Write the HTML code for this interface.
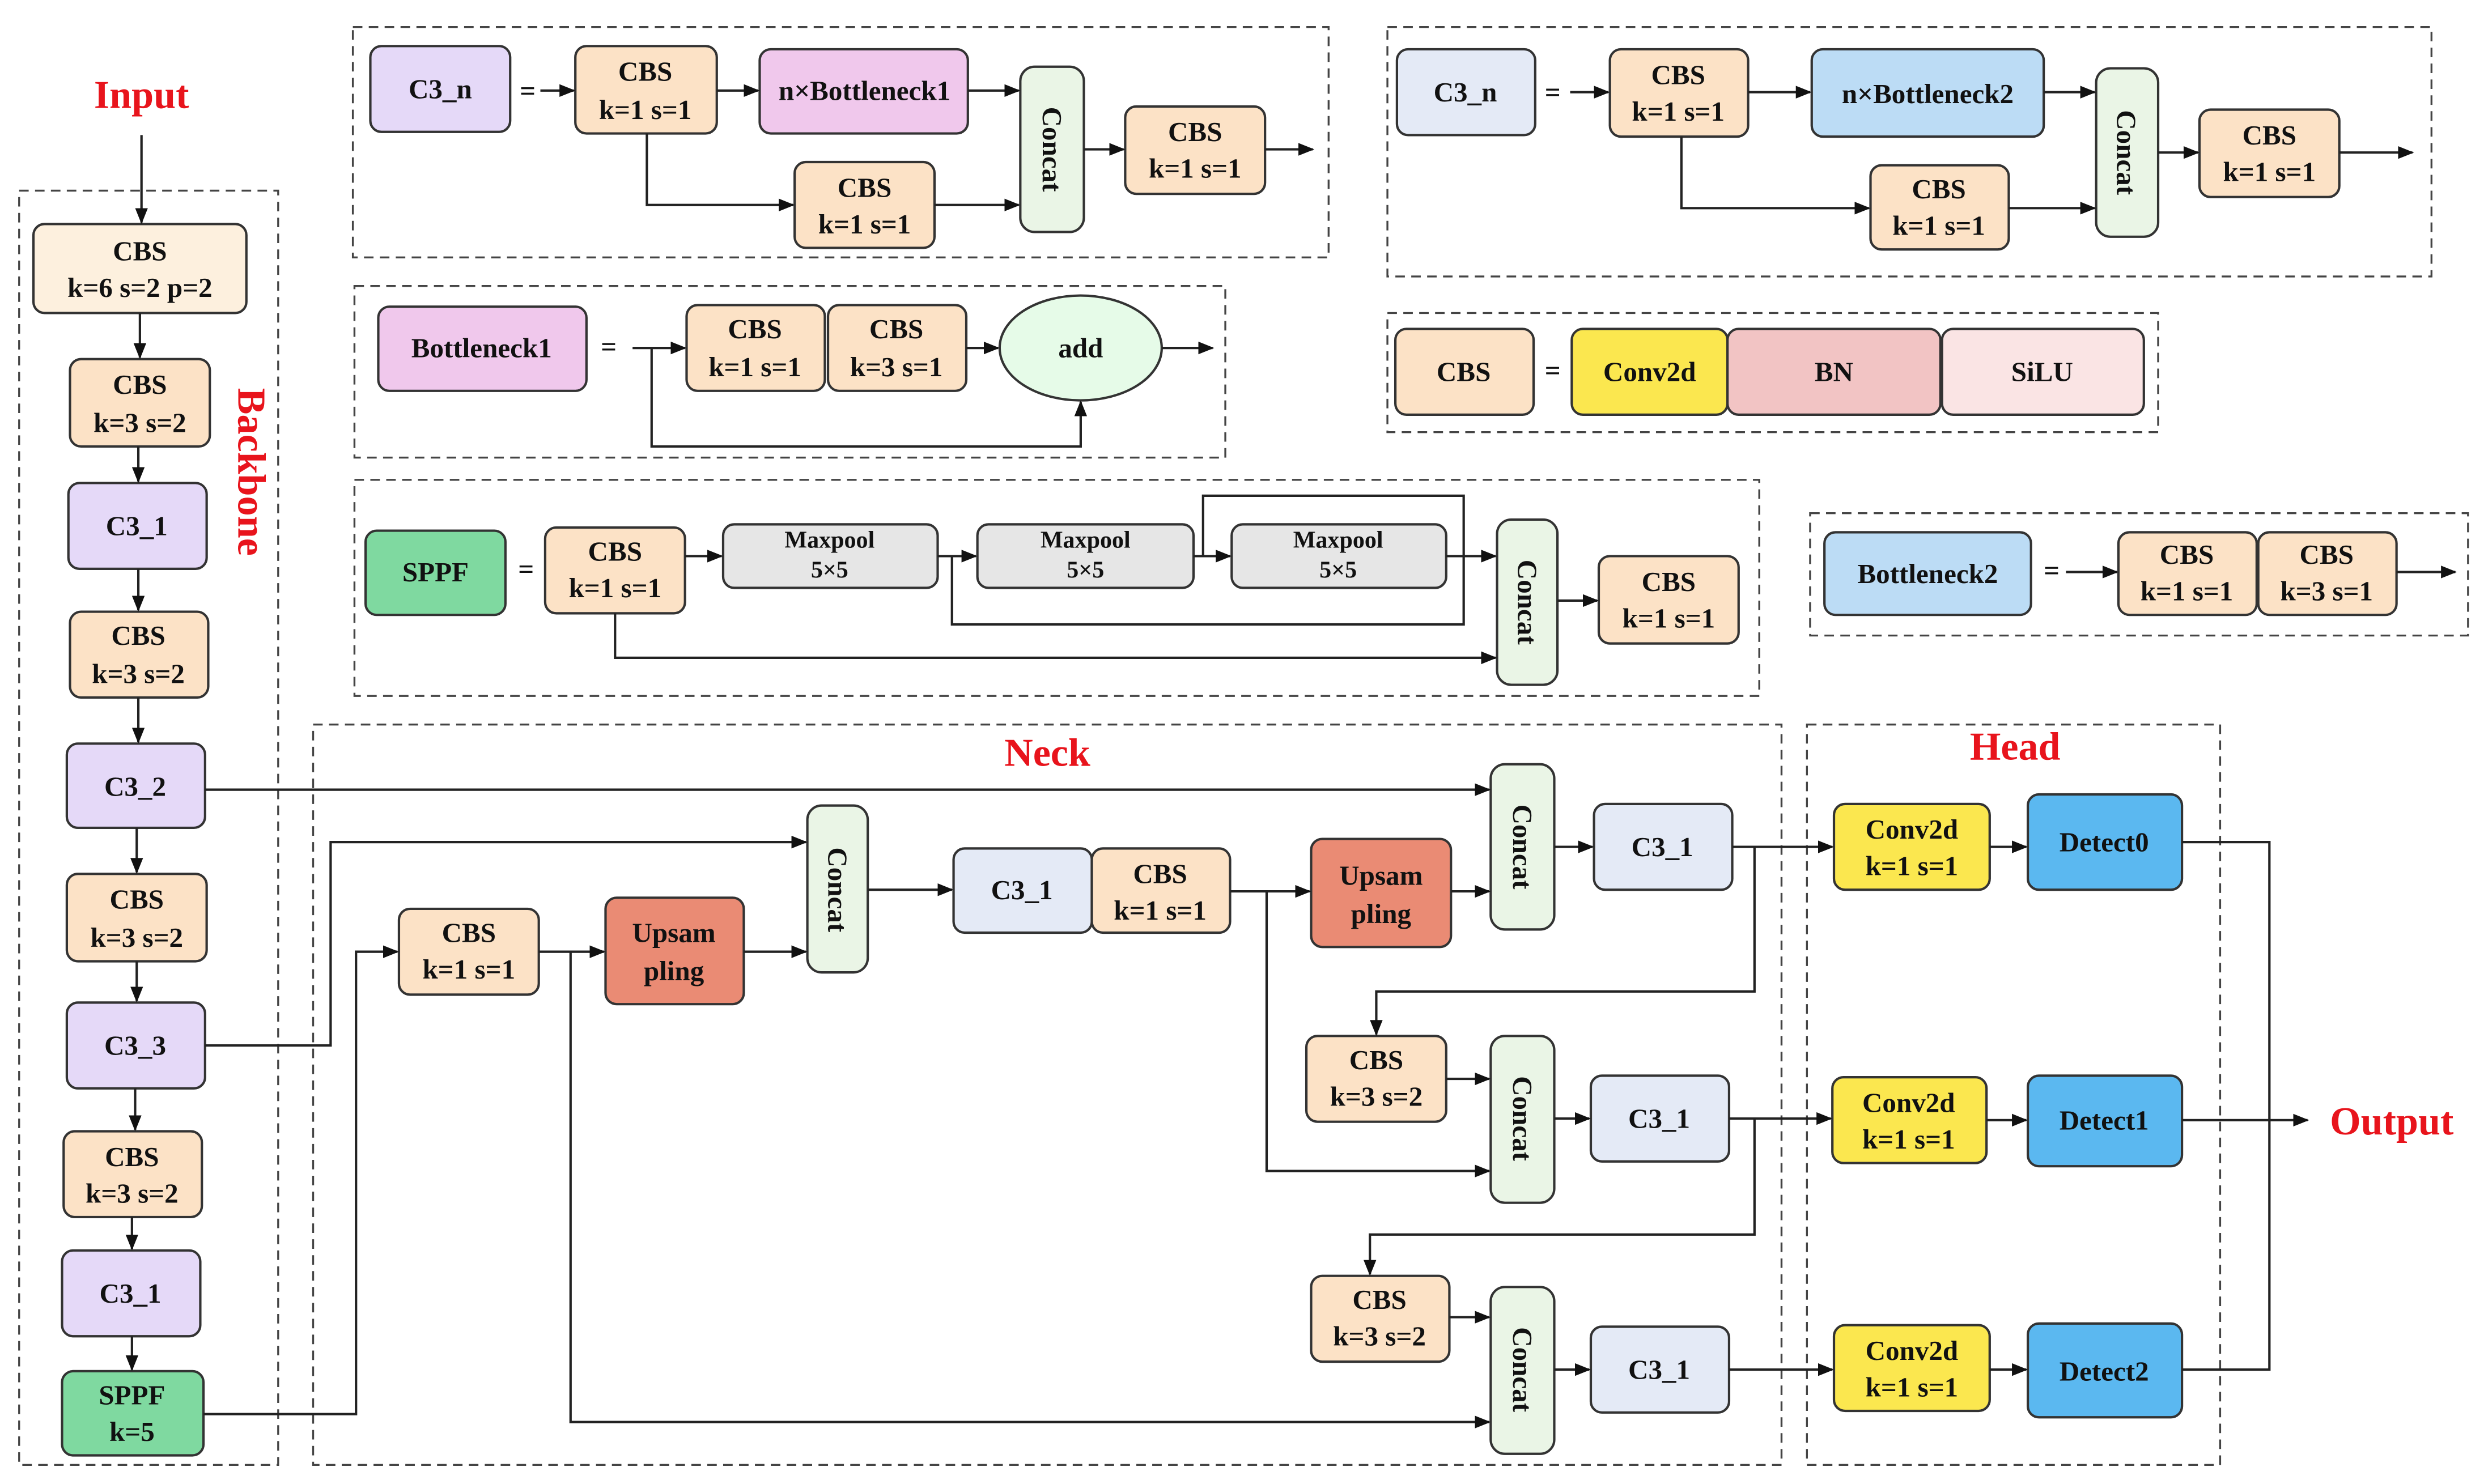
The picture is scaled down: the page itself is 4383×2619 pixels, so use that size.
<!DOCTYPE html>
<html><head><meta charset="utf-8"><style>
html,body{margin:0;padding:0;background:#fff;}
svg{display:block;font-family:"Liberation Serif","Times New Roman",serif;}
svg text{font-family:"Liberation Serif","Times New Roman",serif !important;font-weight:bold;fill:#111;text-anchor:middle;dominant-baseline:central;}
.b rect,.b ellipse{stroke:#333;stroke-width:1.5;}
.l{fill:none;stroke:#222;stroke-width:1.5;}
.d{fill:none;stroke:#444;stroke-width:1.2;stroke-dasharray:6 4;}
.r{fill:#e8141c;font-size:25px;}
.t{font-size:17.5px;}
.s{font-size:15px;}
</style></head><body>
<svg width="4383" height="2619" viewBox="0 0 1563 934" xmlns="http://www.w3.org/2000/svg" font-family="Liberation Serif, serif" font-weight="bold">
<defs><marker id="a" markerWidth="10" markerHeight="10" refX="9" refY="5" orient="auto" markerUnits="userSpaceOnUse"><path d="M0,1 L10,5 L0,9 z" fill="#111"/></marker></defs>

<rect class="d" x="12" y="120" width="163" height="802"/>
<rect class="d" x="222" y="17" width="614" height="145"/>
<rect class="d" x="873" y="17" width="657" height="157"/>
<rect class="d" x="223" y="180" width="548" height="108"/>
<rect class="d" x="873" y="197" width="485" height="75"/>
<rect class="d" x="223" y="302" width="884" height="136"/>
<rect class="d" x="1139" y="323" width="414" height="77"/>
<rect class="d" x="197" y="456" width="924" height="466"/>
<rect class="d" x="1137" y="456" width="260" height="466"/>

<text class="r" x="89" y="60">Input</text>
<text class="r" x="659" y="474">Neck</text>
<text class="r" x="1268" y="470">Head</text>
<text class="r" x="1505" y="706">Output</text>
<text class="r" transform="translate(158,297) rotate(90)">Backbone</text>

<g class="b">
<rect x="21" y="141" width="134" height="56" rx="7" fill="#fdf0de"/>
<rect x="44" y="226" width="88" height="55" rx="7" fill="#fce2c6"/>
<rect x="43" y="304" width="87" height="54" rx="7" fill="#e5d9f8"/>
<rect x="44" y="385" width="87" height="54" rx="7" fill="#fce2c6"/>
<rect x="42" y="468" width="87" height="53" rx="7" fill="#e5d9f8"/>
<rect x="42" y="550" width="88" height="55" rx="7" fill="#fce2c6"/>
<rect x="42" y="631" width="87" height="54" rx="7" fill="#e5d9f8"/>
<rect x="40" y="712" width="87" height="54" rx="7" fill="#fce2c6"/>
<rect x="39" y="787" width="87" height="54" rx="7" fill="#e5d9f8"/>
<rect x="39" y="863" width="89" height="53" rx="7" fill="#7fd9a0"/>
<rect x="233" y="29" width="88" height="54" rx="7" fill="#e5d9f8"/>
<rect x="362" y="29" width="89" height="55" rx="7" fill="#fce2c6"/>
<rect x="478" y="31" width="131" height="53" rx="7" fill="#f0c8ec"/>
<rect x="642" y="42" width="40" height="104" rx="9" fill="#eaf5e6"/>
<rect x="500" y="102" width="88" height="54" rx="7" fill="#fce2c6"/>
<rect x="708" y="67" width="88" height="55" rx="7" fill="#fce2c6"/>
<rect x="879" y="31" width="87" height="54" rx="7" fill="#e4eaf6"/>
<rect x="1013" y="31" width="87" height="55" rx="7" fill="#fce2c6"/>
<rect x="1140" y="31" width="146" height="55" rx="7" fill="#bcdcf5"/>
<rect x="1319" y="43" width="39" height="106" rx="9" fill="#eaf5e6"/>
<rect x="1177" y="104" width="87" height="53" rx="7" fill="#fce2c6"/>
<rect x="1384" y="69" width="88" height="55" rx="7" fill="#fce2c6"/>
<rect x="238" y="193" width="131" height="53" rx="7" fill="#f0c8ec"/>
<rect x="432" y="192" width="87" height="54" rx="7" fill="#fce2c6"/>
<rect x="521" y="192" width="87" height="54" rx="7" fill="#fce2c6"/>
<ellipse cx="680" cy="219" rx="51" ry="33" fill="#e6fbe8"/>
<rect x="878" y="207" width="87" height="54" rx="7" fill="#fce2c6"/>
<rect x="989" y="207" width="98" height="54" rx="7" fill="#fbe74f"/>
<rect x="1087" y="207" width="134" height="54" rx="7" fill="#f2c4c4"/>
<rect x="1222" y="207" width="127" height="54" rx="7" fill="#fae4e4"/>
<rect x="230" y="334" width="88" height="53" rx="7" fill="#7fd9a0"/>
<rect x="343" y="332" width="88" height="54" rx="7" fill="#fce2c6"/>
<rect x="455" y="330" width="135" height="40" rx="7" fill="#e6e6e6"/>
<rect x="615" y="330" width="136" height="40" rx="7" fill="#e6e6e6"/>
<rect x="775" y="330" width="135" height="40" rx="7" fill="#e6e6e6"/>
<rect x="942" y="327" width="38" height="104" rx="9" fill="#eaf5e6"/>
<rect x="1006" y="350" width="88" height="55" rx="7" fill="#fce2c6"/>
<rect x="1148" y="335" width="130" height="52" rx="7" fill="#bcdcf5"/>
<rect x="1333" y="335" width="87" height="52" rx="7" fill="#fce2c6"/>
<rect x="1421" y="335" width="87" height="52" rx="7" fill="#fce2c6"/>
<rect x="251" y="572" width="88" height="54" rx="7" fill="#fce2c6"/>
<rect x="381" y="565" width="87" height="67" rx="7" fill="#ea8b74"/>
<rect x="508" y="507" width="38" height="105" rx="9" fill="#eaf5e6"/>
<rect x="600" y="534" width="87" height="53" rx="7" fill="#e4eaf6"/>
<rect x="687" y="534" width="87" height="53" rx="7" fill="#fce2c6"/>
<rect x="825" y="528" width="88" height="68" rx="7" fill="#ea8b74"/>
<rect x="938" y="481" width="40" height="104" rx="9" fill="#eaf5e6"/>
<rect x="1003" y="506" width="87" height="54" rx="7" fill="#e4eaf6"/>
<rect x="822" y="652" width="88" height="54" rx="7" fill="#fce2c6"/>
<rect x="938" y="652" width="40" height="105" rx="9" fill="#eaf5e6"/>
<rect x="1001" y="677" width="87" height="54" rx="7" fill="#e4eaf6"/>
<rect x="825" y="803" width="87" height="54" rx="7" fill="#fce2c6"/>
<rect x="938" y="810" width="40" height="105" rx="9" fill="#eaf5e6"/>
<rect x="1001" y="835" width="87" height="54" rx="7" fill="#e4eaf6"/>
<rect x="1154" y="506" width="98" height="54" rx="7" fill="#fbe74f"/>
<rect x="1276" y="500" width="97" height="60" rx="7" fill="#5bb8f0"/>
<rect x="1153" y="678" width="97" height="54" rx="7" fill="#fbe74f"/>
<rect x="1276" y="677" width="97" height="57" rx="7" fill="#5bb8f0"/>
<rect x="1154" y="834" width="98" height="54" rx="7" fill="#fbe74f"/>
<rect x="1276" y="833" width="97" height="59" rx="7" fill="#5bb8f0"/>
</g>

<g class="t">
<text x="88" y="158">CBS</text><text x="88" y="181">k=6 s=2 p=2</text>
<text x="88" y="242">CBS</text><text x="88" y="266">k=3 s=2</text>
<text x="86" y="331">C3_1</text>
<text x="87" y="400">CBS</text><text x="87" y="424">k=3 s=2</text>
<text x="85" y="495">C3_2</text>
<text x="86" y="566">CBS</text><text x="86" y="590">k=3 s=2</text>
<text x="85" y="658">C3_3</text>
<text x="83" y="728">CBS</text><text x="83" y="751">k=3 s=2</text>
<text x="82" y="814">C3_1</text>
<text x="83" y="878">SPPF</text><text x="83" y="901">k=5</text>

<text x="277" y="56">C3_n</text><text x="332" y="57">=</text>
<text x="406" y="45">CBS</text><text x="406" y="69">k=1 s=1</text>
<text x="544" y="57">n×Bottleneck1</text>
<text x="662" y="94" transform="rotate(90 662 94)">Concat</text>
<text x="544" y="118">CBS</text><text x="544" y="141">k=1 s=1</text>
<text x="752" y="83">CBS</text><text x="752" y="106">k=1 s=1</text>

<text x="922" y="58">C3_n</text><text x="977" y="58">=</text>
<text x="1056" y="47">CBS</text><text x="1056" y="70">k=1 s=1</text>
<text x="1213" y="59">n×Bottleneck2</text>
<text x="1338" y="96" transform="rotate(90 1338 96)">Concat</text>
<text x="1220" y="119">CBS</text><text x="1220" y="142">k=1 s=1</text>
<text x="1428" y="85">CBS</text><text x="1428" y="108">k=1 s=1</text>

<text x="303" y="219">Bottleneck1</text><text x="383" y="218">=</text>
<text x="475" y="207">CBS</text><text x="475" y="231">k=1 s=1</text>
<text x="564" y="207">CBS</text><text x="564" y="231">k=3 s=1</text>
<text x="680" y="219">add</text>

<text x="921" y="234">CBS</text><text x="977" y="233">=</text>
<text x="1038" y="234">Conv2d</text>
<text x="1154" y="234">BN</text>
<text x="1285" y="234">SiLU</text>

<text x="274" y="360">SPPF</text><text x="331" y="358">=</text>
<text x="387" y="347">CBS</text><text x="387" y="370">k=1 s=1</text>
<text x="961" y="379" transform="rotate(90 961 379)">Concat</text>
<text x="1050" y="366">CBS</text><text x="1050" y="389">k=1 s=1</text>

<text x="1213" y="361">Bottleneck2</text><text x="1291" y="359">=</text>
<text x="1376" y="349">CBS</text><text x="1376" y="372">k=1 s=1</text>
<text x="1464" y="349">CBS</text><text x="1464" y="372">k=3 s=1</text>

<text x="295" y="587">CBS</text><text x="295" y="610">k=1 s=1</text>
<text x="424" y="587">Upsam</text><text x="424" y="611">pling</text>
<text x="527" y="560" transform="rotate(90 527 560)">Concat</text>
<text x="643" y="560">C3_1</text>
<text x="730" y="550">CBS</text><text x="730" y="573">k=1 s=1</text>
<text x="869" y="551">Upsam</text><text x="869" y="575">pling</text>
<text x="958" y="533" transform="rotate(90 958 533)">Concat</text>
<text x="1046" y="533">C3_1</text>
<text x="866" y="667">CBS</text><text x="866" y="690">k=3 s=2</text>
<text x="958" y="704" transform="rotate(90 958 704)">Concat</text>
<text x="1044" y="704">C3_1</text>
<text x="868" y="818">CBS</text><text x="868" y="841">k=3 s=2</text>
<text x="958" y="862" transform="rotate(90 958 862)">Concat</text>
<text x="1044" y="862">C3_1</text>

<text x="1203" y="522">Conv2d</text><text x="1203" y="545">k=1 s=1</text>
<text x="1324" y="530">Detect0</text>
<text x="1201" y="694">Conv2d</text><text x="1201" y="717">k=1 s=1</text>
<text x="1324" y="705">Detect1</text>
<text x="1203" y="850">Conv2d</text><text x="1203" y="873">k=1 s=1</text>
<text x="1324" y="863">Detect2</text>
</g>
<g class="s">
<text x="522" y="340">Maxpool</text><text x="522" y="359">5×5</text>
<text x="683" y="340">Maxpool</text><text x="683" y="359">5×5</text>
<text x="842" y="340">Maxpool</text><text x="842" y="359">5×5</text>
</g>

<g class="l">
<path d="M89,85 V140" marker-end="url(#a)"/>
<path d="M88,197 V225" marker-end="url(#a)"/>
<path d="M87,281 V303" marker-end="url(#a)"/>
<path d="M87,358 V384" marker-end="url(#a)"/>
<path d="M87,439 V467" marker-end="url(#a)"/>
<path d="M86,521 V549" marker-end="url(#a)"/>
<path d="M86,605 V630" marker-end="url(#a)"/>
<path d="M85,685 V711" marker-end="url(#a)"/>
<path d="M83,766 V786" marker-end="url(#a)"/>
<path d="M83,841 V862" marker-end="url(#a)"/>

<path d="M340,57 H361" marker-end="url(#a)"/>
<path d="M451,57 H477" marker-end="url(#a)"/>
<path d="M609,57 H641" marker-end="url(#a)"/>
<path d="M407,84 V129 H499" marker-end="url(#a)"/>
<path d="M588,129 H641" marker-end="url(#a)"/>
<path d="M682,94 H707" marker-end="url(#a)"/>
<path d="M796,94 H826" marker-end="url(#a)"/>

<path d="M988,58 H1012" marker-end="url(#a)"/>
<path d="M1100,58 H1139" marker-end="url(#a)"/>
<path d="M1286,58 H1318" marker-end="url(#a)"/>
<path d="M1058,86 V131 H1176" marker-end="url(#a)"/>
<path d="M1264,131 H1318" marker-end="url(#a)"/>
<path d="M1358,96 H1383" marker-end="url(#a)"/>
<path d="M1472,96 H1518" marker-end="url(#a)"/>

<path d="M398,219 H431" marker-end="url(#a)"/>
<path d="M608,219 H628" marker-end="url(#a)"/>
<path d="M731,219 H763" marker-end="url(#a)"/>
<path d="M410,219 V281 H680 V253" marker-end="url(#a)"/>

<path d="M431,350 H454" marker-end="url(#a)"/>
<path d="M590,350 H614" marker-end="url(#a)"/>
<path d="M751,350 H774" marker-end="url(#a)"/>
<path d="M910,350 H941" marker-end="url(#a)"/>
<path d="M599,350 V393 H921 V312 H757 V350"/>
<path d="M387,386 V414 H941" marker-end="url(#a)"/>
<path d="M980,378 H1005" marker-end="url(#a)"/>

<path d="M1300,360 H1332" marker-end="url(#a)"/>
<path d="M1508,360 H1545" marker-end="url(#a)"/>

<path d="M129,497 H937" marker-end="url(#a)"/>
<path d="M129,658 H208 V530 H507" marker-end="url(#a)"/>
<path d="M128,890 H224 V599 H250" marker-end="url(#a)"/>
<path d="M339,599 H380" marker-end="url(#a)"/>
<path d="M359,599 V895 H937" marker-end="url(#a)"/>
<path d="M468,599 H507" marker-end="url(#a)"/>
<path d="M546,560 H599" marker-end="url(#a)"/>
<path d="M774,561 H824" marker-end="url(#a)"/>
<path d="M797,561 V737 H937" marker-end="url(#a)"/>
<path d="M913,561 H937" marker-end="url(#a)"/>
<path d="M978,533 H1002" marker-end="url(#a)"/>
<path d="M1090,533 H1153" marker-end="url(#a)"/>
<path d="M1104,533 V624 H866 V651" marker-end="url(#a)"/>
<path d="M910,679 H937" marker-end="url(#a)"/>
<path d="M978,704 H1000" marker-end="url(#a)"/>
<path d="M1088,704 H1152" marker-end="url(#a)"/>
<path d="M1104,704 V777 H862 V802" marker-end="url(#a)"/>
<path d="M912,829 H937" marker-end="url(#a)"/>
<path d="M978,862 H1000" marker-end="url(#a)"/>
<path d="M1088,862 H1153" marker-end="url(#a)"/>
<path d="M1252,533 H1275" marker-end="url(#a)"/>
<path d="M1250,705 H1275" marker-end="url(#a)"/>
<path d="M1252,862 H1275" marker-end="url(#a)"/>
<path d="M1373,530 H1428 V862 H1373"/>
<path d="M1373,705 H1452" marker-end="url(#a)"/>
</g>
</svg>
</body></html>
